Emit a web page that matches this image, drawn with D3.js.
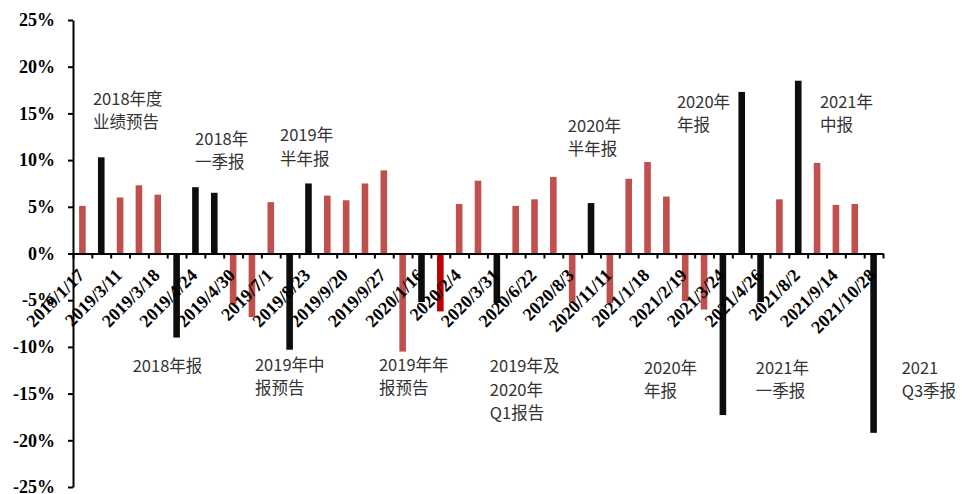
<!DOCTYPE html>
<html>
<head>
<meta charset="utf-8">
<script src="https://cdn.jsdelivr.net/npm/d3@7"></script>
<style>
  html, body { margin: 0; padding: 0; background: #ffffff; }
  svg { display: block; }
  .note { font-family: "Noto Sans CJK SC", "Noto Sans", sans-serif; font-size: 16.5px; fill: #333; }
</style>
</head>
<body>
<svg id="chart" width="964" height="494"></svg>
<script>
// Category labels (every second category carries a date label)
const dateLabels = [
  "2019/1/17", "", "2019/3/11", "", "2019/3/18", "", "2019/4/24", "", "2019/4/30", "",
  "2019/7/1", "", "2019/8/23", "", "2019/9/20", "", "2019/9/27", "", "2020/1/16", "",
  "2020/2/4", "", "2020/3/31", "", "2020/6/22", "", "2020/8/3", "", "2020/11/11", "",
  "2021/1/18", "", "2021/2/19", "", "2021/3/24", "", "2021/4/26", "", "2021/8/2", "",
  "2021/9/14", "", "2021/10/28"
];

// Return (%) of each event
const returns = [
  5.1, 10.3, 6.0, 7.3, 6.3, -9.0, 7.1, 6.5, -5.4, -6.8,
  5.5, -10.3, 7.5, 6.2, 5.7, 7.5, 8.9, -10.5, -5.2, -6.2,
  5.3, 7.8, -5.3, 5.1, 5.8, 8.2, -5.2, 5.4, -5.3, 8.0,
  9.8, 6.1, -5.1, -6.0, -17.3, 17.3, -5.2, 5.8, 18.5, 9.7,
  5.2, 5.3, -19.2
];

// Event kind: "r" ordinary, "k" earnings release, "h" highlighted
const kinds = [
  "r", "k", "r", "r", "r", "k", "k", "k", "r", "r",
  "r", "k", "k", "r", "r", "r", "r", "r", "k", "h",
  "r", "r", "k", "r", "r", "r", "r", "k", "r", "r",
  "r", "r", "r", "r", "k", "k", "k", "r", "k", "r",
  "r", "r", "k"
];

// Y axis ticks (%)
const yTicks = [-25, -20, -15, -10, -5, 0, 5, 10, 15, 20, 25];

// Annotation text blocks, placed in data units (category position, % value)
const noteLines = [
  ["2018年度", "业绩预告"],
  ["2018年", "一季报"],
  ["2019年", "半年报"],
  ["2020年", "半年报"],
  ["2020年", "年报"],
  ["2021年", "中报"],
  ["2018年报"],
  ["2019年中", "报预告"],
  ["2019年年", "报预告"],
  ["2019年及", "2020年", "Q1报告"],
  ["2020年", "年报"],
  ["2021年", "一季报"],
  ["2021", "Q3季报"]
];
const notePos = [1.06, 6.48, 10.99, 26.27, 32.06, 39.65, 3.17, 9.66, 16.24, 22.13, 30.31, 36.25, 43.99];
const noteVal = [15.9, 11.62, 12.04, 13.06, 15.63, 15.63, -12.74, -12.53, -12.53, -12.74, -12.9, -12.9, -12.9];

const colorOf = { r: "#C0504D", k: "#0D0D0D", h: "#C00000" };
const serifFont = "'Liberation Serif', 'Times New Roman', Times, serif";

const svg = d3.select("#chart");
const plotLeft = 73, plotRight = 883, plotTop = 20, plotBottom = 487;

const idx = d3.range(returns.length);
const x = d3.scaleBand().domain(idx).range([plotLeft, plotRight]).paddingInner(0.65).paddingOuter(0.325);
const xPos = d3.scaleLinear().domain([0, returns.length]).range([plotLeft, plotRight]);
const y = d3.scaleLinear().domain([-25, 25]).range([plotBottom, plotTop]);

svg.append("rect").attr("width", 964).attr("height", 494).attr("fill", "#fff");

// Bars
svg.append("g").selectAll("rect").data(idx).join("rect")
  .attr("x", i => x(i))
  .attr("width", x.bandwidth())
  .attr("y", i => y(Math.max(0, returns[i])))
  .attr("height", i => Math.abs(y(returns[i]) - y(0)))
  .attr("fill", i => colorOf[kinds[i]]);

// Y axis
const yAxis = svg.append("g").attr("transform", `translate(${plotLeft},0)`)
  .call(d3.axisLeft(y).tickValues(yTicks).tickSize(5).tickSizeOuter(0).tickPadding(13).tickFormat(d => d + "%"));
yAxis.attr("font-family", serifFont).attr("font-size", 18).attr("font-weight", "bold");
yAxis.select(".domain").attr("stroke", "#000").attr("stroke-width", 2);
yAxis.selectAll(".tick line").attr("stroke", "#000").attr("stroke-width", 2);
yAxis.selectAll(".tick text").attr("fill", "#000");

// X axis at zero with tick marks between categories
const xAxis = svg.append("g").attr("transform", `translate(0,${y(0)})`)
  .call(d3.axisBottom(xPos).tickValues(d3.range(returns.length + 1)).tickSize(5).tickSizeOuter(0).tickFormat(""));
xAxis.select(".domain").attr("stroke", "#000").attr("stroke-width", 2);
xAxis.selectAll(".tick line").attr("stroke", "#000").attr("stroke-width", 2);

// Rotated date labels
svg.append("g")
  .attr("font-family", serifFont).attr("font-size", 18).attr("font-weight", "bold")
  .selectAll("text").data(idx.filter(i => dateLabels[i] !== "")).join("text")
  .attr("text-anchor", "end")
  .attr("fill", "#000")
  .attr("transform", i => `translate(${x(i) + x.bandwidth() / 2 + 3},${y(0) + 23}) rotate(-45)`)
  .text(i => dateLabels[i]);

// Annotations
const notes = svg.append("g");
noteLines.forEach((lines, k) => {
  const t = notes.append("text").attr("class", "note")
    .attr("x", xPos(notePos[k])).attr("y", y(noteVal[k]));
  lines.forEach((s, j) => {
    t.append("tspan").attr("x", xPos(notePos[k])).attr("dy", j === 0 ? 0 : 23.5).text(s);
  });
});
</script>
</body>
</html>
